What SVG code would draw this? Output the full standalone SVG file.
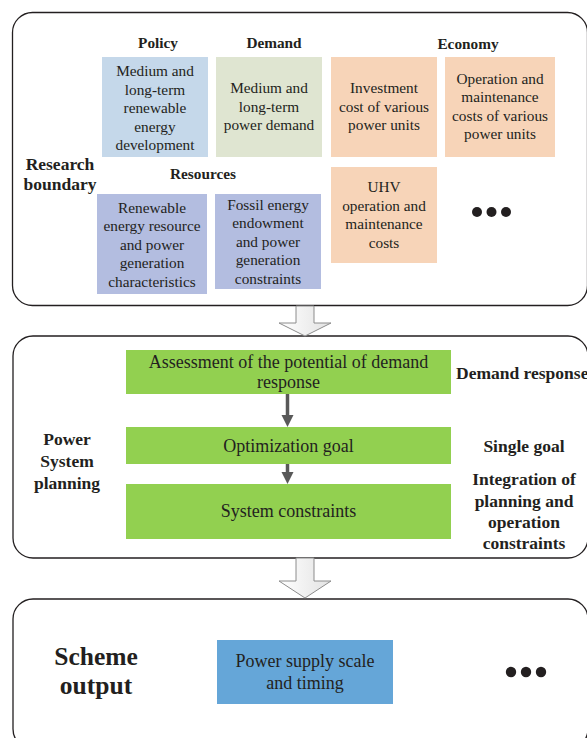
<svg xmlns="http://www.w3.org/2000/svg" width="587" height="738" viewBox="0 0 587 738">
<style>
text{font-family:"Liberation Serif","Times New Roman",serif;fill:#231f20;text-anchor:middle}
.r{font-size:15.3px}
.g{font-size:18px}
.h{font-size:15.3px;font-weight:bold}
.s{font-size:17.5px;font-weight:bold}
.big{font-size:25.5px;font-weight:bold}
.ct{fill:#fff;stroke:#231f20;stroke-width:1.3}
.hollow{fill:url(#hg);stroke:#8c8c8c;stroke-width:1}
.dot{fill:#231f20}
</style>
<defs>
<linearGradient id="hg" x1="0" y1="0" x2="1" y2="0">
<stop offset="0" stop-color="#ffffff"/>
<stop offset="1" stop-color="#e2e2e2"/>
</linearGradient>
</defs>
<rect width="587" height="738" fill="#fff"/>

<g id="research-boundary">
<rect class="ct" x="12.5" y="12.5" width="575" height="293" rx="20"/>
<text class="s" x="60" y="170">Research</text>
<text class="s" x="60" y="190">boundary</text>
<text class="h" x="158" y="48">Policy</text>
<text class="h" x="274" y="48">Demand</text>
<text class="h" x="468" y="49">Economy</text>
<text class="h" x="203" y="179">Resources</text>
</g>

<g id="policy-box">
<rect x="102" y="57" width="106" height="100" fill="#c5d8ea"/>
<text class="r" x="155" y="76">Medium and</text>
<text class="r" x="155" y="94.5">long-term</text>
<text class="r" x="155" y="113">renewable</text>
<text class="r" x="155" y="131.5">energy</text>
<text class="r" x="155" y="150">development</text>
</g>

<g id="demand-box">
<rect x="216" y="57" width="106" height="100" fill="#dfe5d1"/>
<text class="r" x="269" y="93">Medium and</text>
<text class="r" x="269" y="111.5">long-term</text>
<text class="r" x="269" y="130">power demand</text>
</g>

<g id="investment-box">
<rect x="331" y="57" width="106" height="100" fill="#f7d4b8"/>
<text class="r" x="384" y="93">Investment</text>
<text class="r" x="384" y="111.5">cost of various</text>
<text class="r" x="384" y="130">power units</text>
</g>

<g id="om-box">
<rect x="445" y="57" width="110" height="100" fill="#f7d4b8"/>
<text class="r" x="500" y="83.5">Operation and</text>
<text class="r" x="500" y="102">maintenance</text>
<text class="r" x="500" y="120.5">costs of various</text>
<text class="r" x="500" y="139">power units</text>
</g>

<g id="uhv-box">
<rect x="331" y="167" width="106" height="96" fill="#f7d4b8"/>
<text class="r" x="384" y="192">UHV</text>
<text class="r" x="384" y="210.5">operation and</text>
<text class="r" x="384" y="229">maintenance</text>
<text class="r" x="384" y="247.5">costs</text>
</g>

<g id="economy-more">
<circle class="dot" cx="477" cy="212" r="5"/>
<circle class="dot" cx="491.5" cy="212" r="5"/>
<circle class="dot" cx="506" cy="212" r="5"/>
</g>

<g id="renewable-box">
<rect x="97" y="194" width="110" height="100" fill="#b3bde0"/>
<text class="r" x="152" y="212.5">Renewable</text>
<text class="r" x="152" y="231">energy resource</text>
<text class="r" x="152" y="249.5">and power</text>
<text class="r" x="152" y="268">generation</text>
<text class="r" x="152" y="286.5">characteristics</text>
</g>

<g id="fossil-box">
<rect x="215" y="194" width="106" height="95" fill="#b3bde0"/>
<text class="r" x="268" y="209.5">Fossil energy</text>
<text class="r" x="268" y="228">endowment</text>
<text class="r" x="268" y="246.5">and power</text>
<text class="r" x="268" y="265">generation</text>
<text class="r" x="268" y="283.5">constraints</text>
</g>

<g id="power-system-planning">
<rect class="ct" x="13" y="336" width="575" height="222" rx="20"/>
<text class="s" x="67" y="445">Power</text>
<text class="s" x="67" y="467">System</text>
<text class="s" x="67" y="489">planning</text>
<text class="s" x="456" y="379" style="text-anchor:start">Demand response</text>
<text class="s" x="524" y="452">Single goal</text>
<text class="s" x="524" y="485">Integration of</text>
<text class="s" x="524" y="507">planning and</text>
<text class="s" x="524" y="528">operation</text>
<text class="s" x="524" y="549">constraints</text>
</g>

<g id="assessment-box">
<rect x="126" y="350" width="325" height="44" fill="#92d050"/>
<text class="g" x="288.5" y="368">Assessment of the potential of demand</text>
<text class="g" x="288.5" y="388">response</text>
</g>

<g id="optimization-box">
<rect x="126" y="427" width="325" height="37" fill="#92d050"/>
<text class="g" x="288.5" y="452">Optimization goal</text>
</g>

<g id="constraints-box">
<rect x="126" y="484" width="325" height="55" fill="#92d050"/>
<text class="g" x="288.5" y="517">System constraints</text>
</g>

<g id="scheme-output">
<rect class="ct" x="13" y="599" width="575" height="150" rx="20"/>
<text class="big" x="96" y="665">Scheme</text>
<text class="big" x="96" y="694">output</text>
</g>

<g id="power-supply-box">
<rect x="217" y="640" width="176" height="64" fill="#65a6d8"/>
<text class="g" x="305" y="667">Power supply scale</text>
<text class="g" x="305" y="689">and timing</text>
</g>

<g id="output-more">
<circle class="dot" cx="511" cy="672" r="5.2"/>
<circle class="dot" cx="526" cy="672" r="5.2"/>
<circle class="dot" cx="541" cy="672" r="5.2"/>
</g>

<g id="connectors">
<polygon class="hollow" points="296,306 314,306 314,323 331,323 305,336 279,323 296,323"/>
<polygon class="hollow" points="296,558 314,558 314,581 331,581 305,598 279,581 296,581"/>
<line x1="287.5" y1="394" x2="287.5" y2="416" stroke="#595959" stroke-width="3.5"/>
<polygon points="281.5,415 293.5,415 287.5,427" fill="#595959"/>
<line x1="287.5" y1="464" x2="287.5" y2="473" stroke="#595959" stroke-width="3.5"/>
<polygon points="281.5,472 293.5,472 287.5,484" fill="#595959"/>
</g>
</svg>
